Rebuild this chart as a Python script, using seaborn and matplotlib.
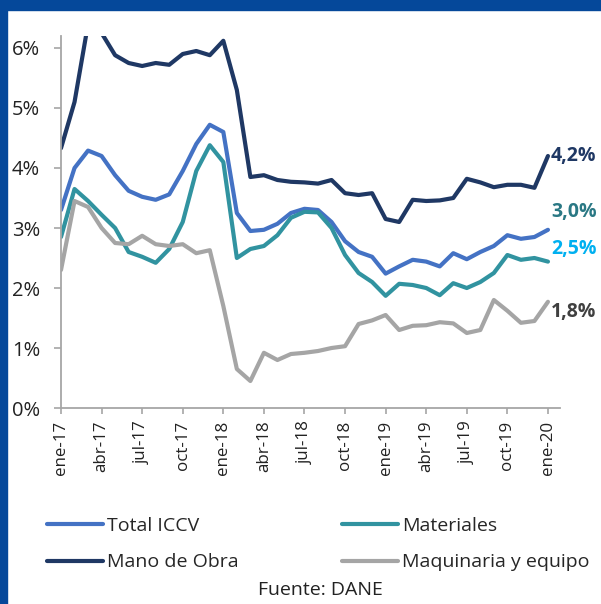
import numpy as np
import pandas as pd
import matplotlib
matplotlib.use("Agg")
import matplotlib.pyplot as plt
import seaborn as sns
from matplotlib.patches import Rectangle
from matplotlib.lines import Line2D

# ---------------- data ----------------
meses_abr = ["ene", "feb", "mar", "abr", "may", "jun", "jul", "ago", "sep", "oct", "nov", "dic"]
meses = [f"{meses_abr[i % 12]}-{17 + i // 12}" for i in range(37)]  # ene-17 .. ene-20

total_iccv = [3.30, 4.00, 4.29, 4.20, 3.88, 3.62, 3.52, 3.47, 3.56, 3.95, 4.40, 4.72, 4.60,
              3.25, 2.95, 2.97, 3.07, 3.25, 3.32, 3.30, 3.10, 2.78, 2.60, 2.52, 2.24,
              2.36, 2.47, 2.44, 2.36, 2.58, 2.48, 2.60, 2.70, 2.88, 2.82, 2.85, 2.97]
materiales = [2.85, 3.65, 3.45, 3.22, 3.00, 2.60, 2.52, 2.42, 2.65, 3.10, 3.95, 4.38, 4.10,
              2.50, 2.65, 2.70, 2.88, 3.17, 3.27, 3.26, 3.00, 2.55, 2.25, 2.10, 1.87,
              2.07, 2.05, 2.00, 1.88, 2.08, 2.00, 2.10, 2.25, 2.55, 2.47, 2.50, 2.44]
mano_obra = [4.33, 5.10, 6.40, 6.25, 5.88, 5.75, 5.70, 5.75, 5.72, 5.90, 5.95, 5.88, 6.12,
             5.30, 3.85, 3.88, 3.80, 3.77, 3.76, 3.74, 3.80, 3.58, 3.55, 3.58, 3.15,
             3.10, 3.47, 3.45, 3.46, 3.50, 3.82, 3.76, 3.68, 3.72, 3.72, 3.67, 4.20]
maquinaria = [2.30, 3.45, 3.35, 3.00, 2.75, 2.73, 2.87, 2.73, 2.70, 2.73, 2.58, 2.63, 1.70,
              0.65, 0.45, 0.92, 0.80, 0.90, 0.92, 0.95, 1.00, 1.03, 1.40, 1.46, 1.55,
              1.30, 1.37, 1.38, 1.43, 1.41, 1.25, 1.30, 1.80, 1.62, 1.42, 1.45, 1.77]

series = ["Total ICCV", "Materiales", "Mano de Obra", "Maquinaria y equipo"]
colores = ["#4472C4", "#3193A0", "#1F3864", "#A5A5A5"]
etiquetas = ["3,0%", "2,5%", "4,2%", "1,8%"]
colores_etiqueta = ["#2A7884", "#00B0F0", "#1F3864", "#404040"]
desplaz_etiqueta = [13, 9, 0, -7]  # vertical offsets in points

tick_pos = list(range(0, 37, 3))
tick_labels = [meses[i] for i in tick_pos]
y_ticks = [0, 1, 2, 3, 4, 5, 6]
y_labels = [f"{v}%" for v in y_ticks]

valores = [total_iccv, materiales, mano_obra, maquinaria]
df = pd.concat([
    pd.DataFrame({"x": range(len(meses)), "mes": meses, "valor": v, "serie": s})
    for s, v in zip(series, valores)
], ignore_index=True)

# ---------------- plot ----------------
sns.set_style("white")
plt.rcParams["font.family"] = ["Open Sans", "DejaVu Sans"]

fig = plt.figure(figsize=(6.01, 6.04), dpi=100)
ax = fig.add_axes([0.1015, 0.3245, 0.8305, 0.6159])

sns.lineplot(data=df, x="x", y="valor", hue="serie", hue_order=series,
             palette=dict(zip(series, colores)), linewidth=3.0, ax=ax,
             legend=False, sort=False)
for ln in ax.get_lines():
    ln.set_solid_joinstyle("round")
    ln.set_solid_capstyle("round")

ax.set_xlim(0, 36.9)
ax.set_ylim(0, 6.2)
ax.set_xticks(tick_pos)
ax.set_xticklabels(tick_labels, rotation=90, fontsize=12.2, color="#222222")
ax.set_yticks(y_ticks)
ax.set_yticklabels(y_labels, fontsize=14.5, color="#222222")
ax.set_xlabel("")
ax.set_ylabel("")
for side in ["top", "right"]:
    ax.spines[side].set_visible(False)
for side in ["left", "bottom"]:
    ax.spines[side].set_color("#A6A6A6")
    ax.spines[side].set_linewidth(1.3)
ax.tick_params(axis="y", length=5, width=1.2, color="#A6A6A6", pad=10, left=True)
ax.tick_params(axis="x", length=4, width=1.2, color="#A6A6A6", pad=5, bottom=True)
ax.grid(False)

# end labels
for v, lab, c, dy in zip(valores, etiquetas, colores_etiqueta, desplaz_etiqueta):
    ax.annotate(lab, xy=(len(v) - 1, v[-1]), xytext=(35, dy), textcoords="offset points",
                ha="right", va="center", fontsize=14, fontweight="bold", color=c,
                annotation_clip=False)

# legend
orden = [0, 2, 1, 3]
handles = [Line2D([], [], color=colores[i], linewidth=3.0) for i in orden]
labels = [series[i] for i in orden]
fig.legend(handles, labels, ncol=2, loc="center left", bbox_to_anchor=(0.078, 0.099),
           bbox_transform=fig.transFigure, frameon=False, fontsize=14,
           handlelength=2.9, handletextpad=0.2, columnspacing=5.3, labelspacing=0.95,
           borderaxespad=0, borderpad=0)
fig.text(0.534, 0.023, "Fuente: DANE", ha="center", va="center", fontsize=14, color="#222222")

# blue frame
fig.patches.append(Rectangle((0, 1 - 10 / 604), 1, 10 / 604, transform=fig.transFigure,
                             color="#05489A", zorder=10))
fig.patches.append(Rectangle((0, 0), 7 / 601, 1, transform=fig.transFigure,
                             color="#05489A", zorder=10))

fig.savefig("out.png", dpi=100)
